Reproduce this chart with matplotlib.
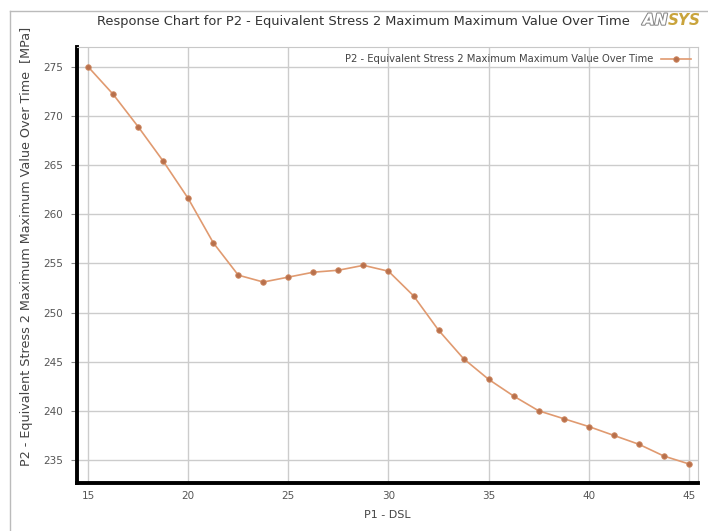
import matplotlib
matplotlib.use('Agg')
from matplotlib import pyplot as plt, patheffects
import numpy as np

# P1 - DSL design points
dsl = [15, 16.25, 17.5, 18.75, 20, 21.25, 22.5, 23.75, 25, 26.25, 27.5, 28.75, 30,
       31.25, 32.5, 33.75, 35, 36.25, 37.5, 38.75, 40, 41.25, 42.5, 43.75, 45]
# P2 - equivalent stress [MPa]
stress = [275.0, 272.2, 268.9, 265.4, 261.6, 257.1, 253.8, 253.1, 253.6, 254.1, 254.3, 254.8, 254.2,
          251.7, 248.2, 245.3, 243.2, 241.5, 240.0, 239.2, 238.4, 237.5, 236.6, 235.4, 234.6]
xticks = [15, 20, 25, 30, 35, 40, 45]
yticks = [235, 240, 245, 250, 255, 260, 265, 270, 275]

series_name = 'P2 - Equivalent Stress 2 Maximum Maximum Value Over Time'

fig = plt.figure(figsize=(7.08, 5.31), dpi=100)
ax = fig.add_axes([0.1088, 0.0904, 0.877, 0.821])

ax.plot(dsl, stress, color='#e09a70', lw=1.2, marker='o', markersize=4,
        markerfacecolor='#b8704c', markeredgecolor='#d08a62', markeredgewidth=0.6,
        label=series_name, zorder=3)

ax.set_xlim(14.45, 45.45)
ax.set_ylim(232.66, 277.0)
ax.set_xticks(xticks)
ax.set_yticks(yticks)
ax.grid(True, color='#cccccc', lw=1)
ax.set_axisbelow(True)

for side in ['left', 'bottom']:
    ax.spines[side].set_linewidth(2.8)
    ax.spines[side].set_color('black')
for side in ['top', 'right']:
    ax.spines[side].set_linewidth(0.8)
    ax.spines[side].set_color('#c8c8c8')

ax.tick_params(axis='both', labelsize=7.5, labelcolor='#555555', color='#888888',
               length=4, width=0.8)
ax.tick_params(axis='x', length=0, pad=6)
ax.tick_params(axis='y', pad=6)

ax.set_xlabel('P1 - DSL', fontsize=8, color='#444444', labelpad=6)
fig.text(0.037, 0.535, series_name + '  [MPa]', rotation=90, fontsize=9.2,
         color='#444444', ha='center', va='center')

leg = ax.legend(loc='upper right', fontsize=7.2, frameon=False, markerfirst=False,
                handlelength=3, borderaxespad=0.3, labelcolor='#444444')

fig.text(0.513, 0.96, 'Response Chart for P2 - Equivalent Stress 2 Maximum Maximum Value Over Time',
         fontsize=9.4, color='#333333', ha='center', va='center')
fig.text(0.908, 0.962, 'AN', fontsize=11, fontstyle='italic', fontweight='bold',
         color='white', ha='left', va='center',
         path_effects=[patheffects.withStroke(linewidth=1.5, foreground='#888888')])
fig.text(0.9435, 0.962, 'SYS', fontsize=11, fontstyle='italic', fontweight='bold',
         color='#c9a43c', ha='left', va='center')

# outer frame line
fig.add_artist(plt.Line2D([0.014, 0.014], [0.0, 0.98], color='#bbbbbb', lw=1))
fig.add_artist(plt.Line2D([0.014, 1.0], [0.98, 0.98], color='#bbbbbb', lw=1))

fig.savefig('out.png', dpi=100)
